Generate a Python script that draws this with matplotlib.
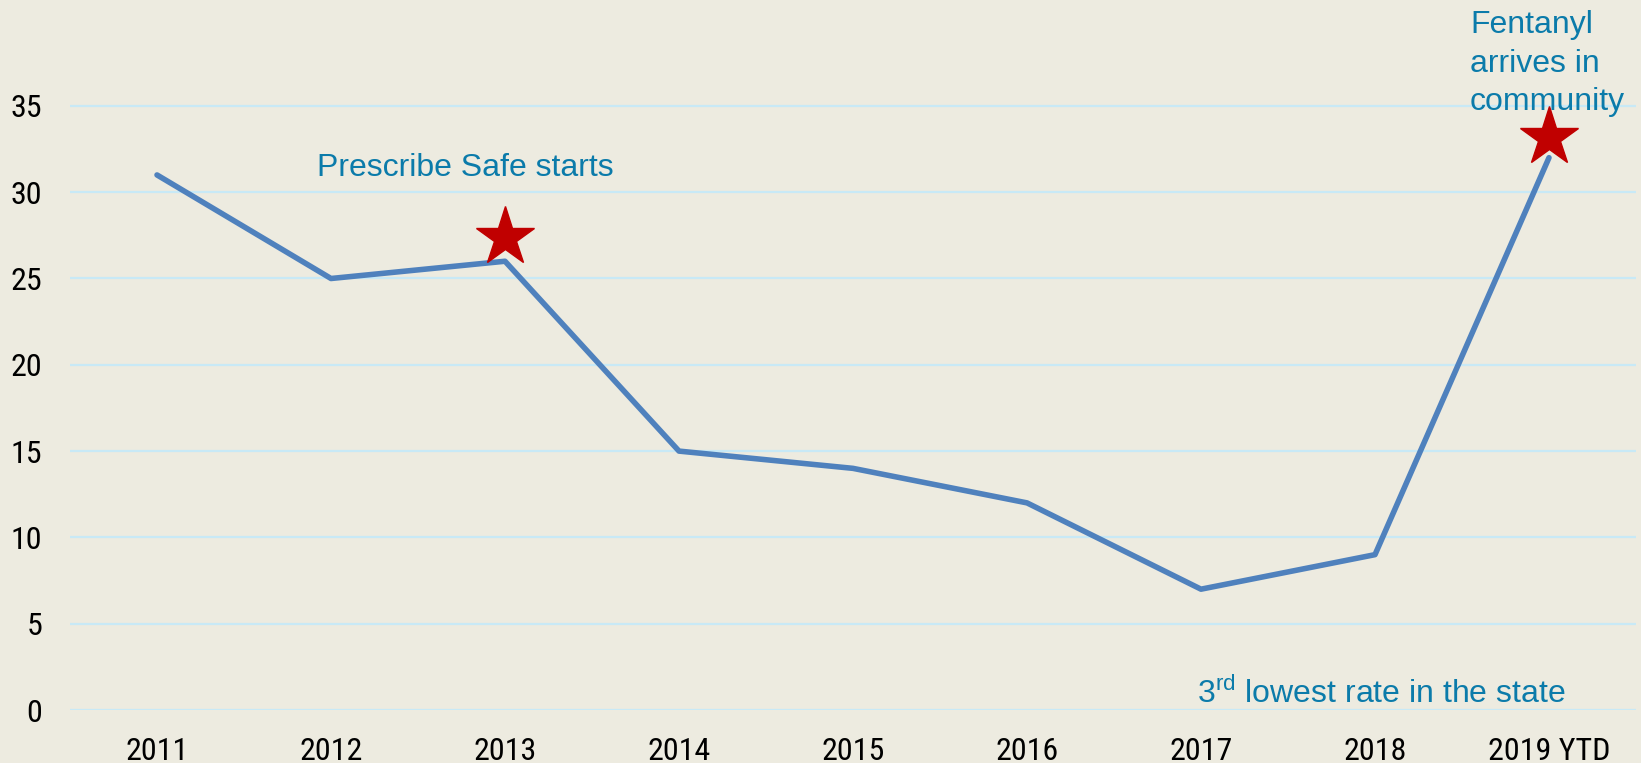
import matplotlib.pyplot as plt

# overdose rate by year
years = ["2011", "2012", "2013", "2014", "2015", "2016", "2017", "2018", "2019 YTD"]
rates = [31, 25, 26, 15, 14, 12, 7, 9, 32]
y_ticks = [0, 5, 10, 15, 20, 25, 30, 35]

# event markers: (category index, value)
star_x = [2, 8]
star_y = [27.4, 33.2]

fentanyl_lines = ["Fentanyl", "arrives in", "community"]

BG = "#EDEBE0"
LINE = "#4F81BD"
GRID = "#C8E9F6"
NOTE = "#0B7BAA"

plt.rcParams["mathtext.fontset"] = "custom"
plt.rcParams["mathtext.rm"] = "Liberation Sans"

W, H = 1641, 763
fig = plt.figure(figsize=(W / 100, H / 100), dpi=100, facecolor=BG)
ax = fig.add_axes([70 / W, (H - 710) / H, 1566 / W, (710 - 19.6) / H], facecolor=BG)

x = range(len(years))
ax.plot(x, rates, color=LINE, lw=4, solid_capstyle="round", zorder=3, clip_on=False)
ax.plot(star_x, star_y, ls="none", marker="*", ms=44, color="#C00000", zorder=4, clip_on=False)

ax.set_xlim(-0.5, len(years) - 0.5)
ax.set_ylim(0, 40)
ax.set_yticks(y_ticks)
ax.set_xticks(list(x))
ax.set_xticklabels(years)
ax.grid(axis="y", color=GRID, lw=1.6)
ax.set_axisbelow(True)
for s in ax.spines.values():
    s.set_visible(False)

tick_font = ["Roboto Condensed", "Liberation Sans", "DejaVu Sans"]
ax.tick_params(axis="both", length=0, labelsize=23, labelcolor="black")
ax.tick_params(axis="y", pad=20)
ax.tick_params(axis="x", pad=19.5)
for lab in ax.get_xticklabels() + ax.get_yticklabels():
    lab.set_family(tick_font)

note_font = ["Liberation Sans", "DejaVu Sans"]
ax.text(0.92, 30.94, "Prescribe Safe starts", color=NOTE, fontsize=23,
        family=note_font, ha="left", va="baseline")
# one text per line so the baselines are evenly spaced
for i, line in enumerate(fentanyl_lines):
    ax.text(7.546, 39.2 - 2.23 * i, line, color=NOTE, fontsize=23,
            family=note_font, ha="left", va="baseline")
ax.text(5.977, 0.41, "3$^{\\mathrm{rd}}$ lowest rate in the state", color=NOTE, fontsize=23,
        family=note_font, ha="left", va="baseline")

fig.savefig("out.png", dpi=100, facecolor=BG)
